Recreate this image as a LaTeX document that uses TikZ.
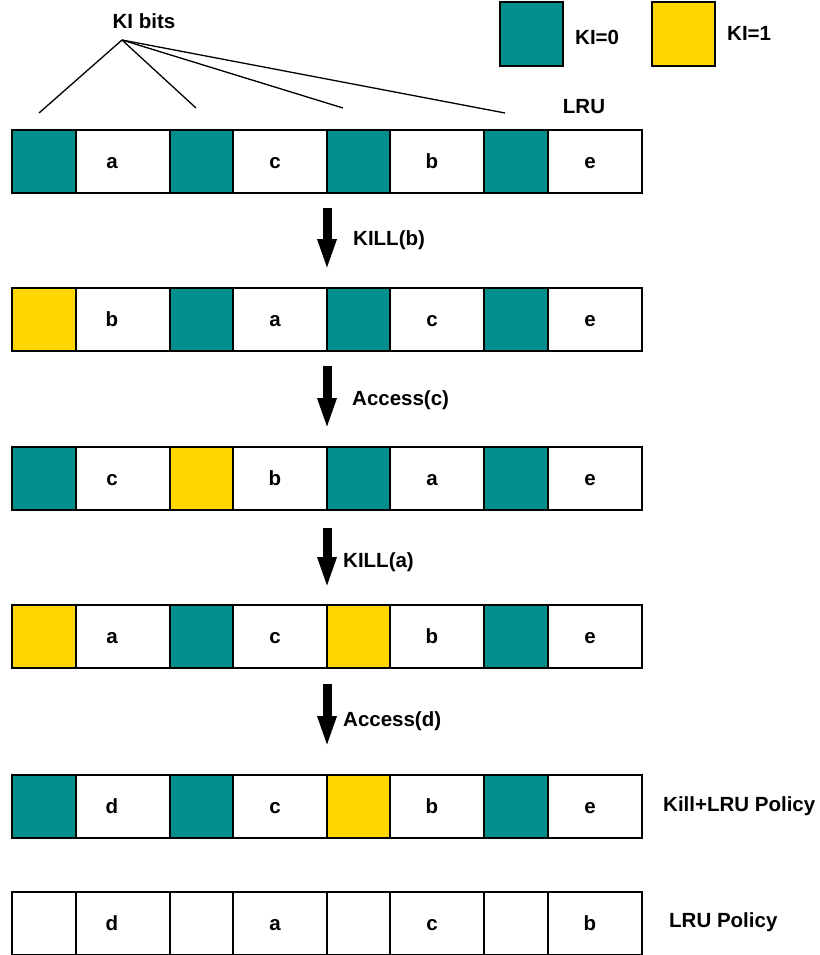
\documentclass[tikz,border=0pt]{standalone}
\usepackage{fontspec}
\setmainfont{Liberation Sans}
\usetikzlibrary{arrows.meta}
\definecolor{kteal}{RGB}{0,143,140}
\definecolor{kyellow}{RGB}{255,214,0}
\newcommand\cellrow[3]{%
  \foreach \kc/\lab [count=\j] in {#3}{%
    \pgfmathsetmacro\xk{{12,170,327,484}[\j-1]}%
    \pgfmathsetmacro\wk{{64,63,63,64}[\j-1]}%
    \pgfmathsetmacro\xd{{76,233,390,548}[\j-1]}%
    \pgfmathsetmacro\xl{{112,275,432,590}[\j-1]}%
    \node[cell, fill=\kc, minimum width=\wk pt] (#1k\j) at (\xk,#2) {};
    \node[cell, fill=white, minimum width=94pt] (#1d\j) at (\xd,#2) {};
    \node[txt, anchor=base] (#1l\j) at (\xl,#2+38) {\lab};
  }}
\begin{document}
\begin{tikzpicture}[x=1pt,y=-1pt,
  cell/.style={draw=black, line width=1.8pt, minimum height=63pt, inner sep=0pt, outer sep=0pt, anchor=north west},
  txt/.style={font=\bfseries\fontsize{20.5}{24}\selectfont, inner sep=0pt},
  bigarrow/.style={line width=9pt, -{Triangle[length=32pt,width=17pt]}},
  kiline/.style={line width=1.3pt}]
\useasboundingbox (0,0) rectangle (819,955);
% legend
\node[cell, fill=kteal, minimum width=63pt, minimum height=64pt] (leg0) at (500,2) {};
\node[txt, anchor=west] (leg0t) at (575,37) {KI=0};
\node[cell, fill=kyellow, minimum width=63pt, minimum height=64pt] (leg1) at (652,2) {};
\node[txt, anchor=west] (leg1t) at (727,33) {KI=1};
% rows
\cellrow{ra}{130}{kteal/a,kteal/c,kteal/b,kteal/e}
\cellrow{rb}{288}{kyellow/b,kteal/a,kteal/c,kteal/e}
\cellrow{rc}{447}{kteal/c,kyellow/b,kteal/a,kteal/e}
\cellrow{rd}{605}{kyellow/a,kteal/c,kyellow/b,kteal/e}
\cellrow{re}{775}{kteal/d,kteal/c,kyellow/b,kteal/e}
\cellrow{rf}{892}{white/d,white/a,white/c,white/b}
% KI bits
\node[txt] (kib) at (144,21) {KI bits};
\coordinate (apex) at (122,40);
\coordinate (e1) at (39,113);
\coordinate (e2) at (196,108);
\coordinate (e3) at (343,108);
\coordinate (e4) at (505,113);
\foreach \e in {e1,e2,e3,e4} \draw[kiline] (apex) -- (\e);
\node[txt] (lru) at (584,107) {LRU};
% arrows
\draw[bigarrow, shorten <=15pt, shorten >=17pt] (rak3.south west) -- (rbk3.north west);
\draw[bigarrow, shorten <=15pt, shorten >=17pt] (rbk3.south west) -- (rck3.north west);
\draw[bigarrow, shorten <=18pt, shorten >=16pt] (rck3.south west) -- (rdk3.north west);
\draw[bigarrow, shorten <=16pt, shorten >=27pt] (rdk3.south west) -- (rek3.north west);
\node[txt, anchor=west] (op1) at (353,240) {KILL(b)};
\node[txt, anchor=west] (op2) at (352,400) {Access(c)};
\node[txt, anchor=west] (op3) at (343,562) {KILL(a)};
\node[txt, anchor=west] (op4) at (343,721) {Access(d)};
% policies
\node[txt, anchor=west] (pol1) at (663,806) {Kill+LRU Policy};
\node[txt, anchor=west] (pol2) at (669,922) {LRU Policy};
\end{tikzpicture}
\end{document}
